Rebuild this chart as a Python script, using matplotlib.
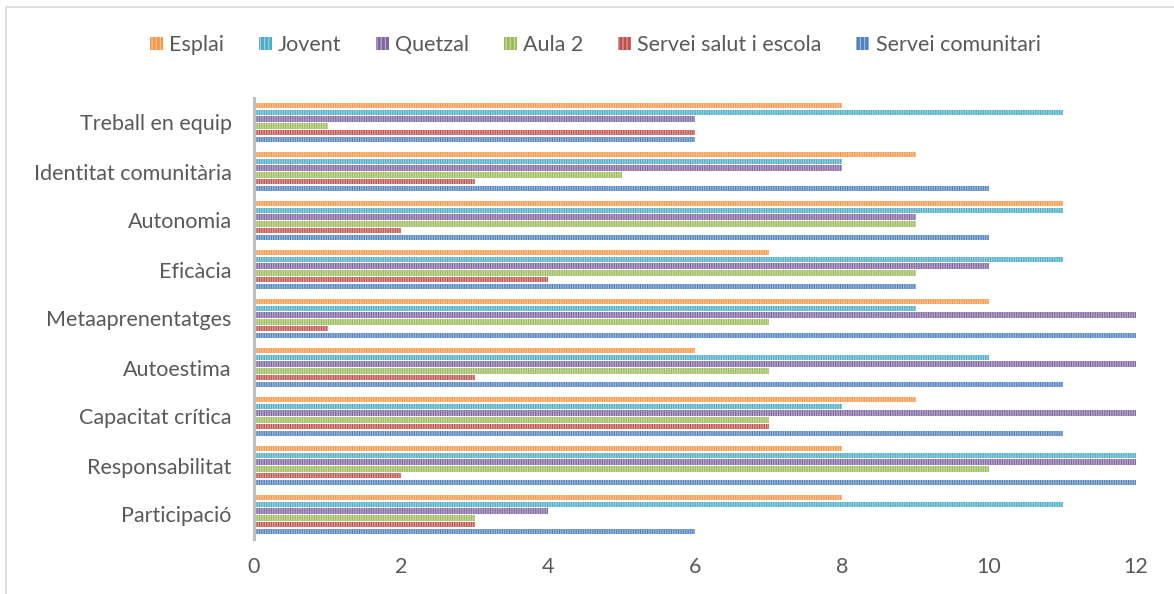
import matplotlib.pyplot as plt
import matplotlib.patches as mpatches
from matplotlib.colors import to_rgb
import numpy as np

plt.rcParams["font.family"] = ["Lato", "DejaVu Sans"]
plt.rcParams["hatch.linewidth"] = 0.9

# categories listed bottom -> top
categories = ["Participació", "Responsabilitat", "Capacitat crítica", "Autoestima",
              "Metaaprenentatges", "Eficàcia", "Autonomia", "Identitat comunitària",
              "Treball en equip"]

series = ["Esplai", "Jovent", "Quetzal", "Aula 2", "Servei salut i escola", "Servei comunitari"]

esplai            = [8, 8, 9, 6, 10, 7, 11, 9, 8]
jovent            = [11, 12, 8, 10, 9, 11, 11, 8, 11]
quetzal           = [4, 12, 12, 12, 12, 10, 9, 8, 6]
aula2             = [3, 10, 7, 7, 7, 9, 9, 5, 1]
servei_salut      = [3, 2, 7, 3, 1, 4, 2, 3, 6]
servei_comunitari = [6, 12, 11, 11, 12, 9, 10, 10, 6]

valors = [esplai, jovent, quetzal, aula2, servei_salut, servei_comunitari]
colors = ["#F79646", "#4BACC6", "#8064A2", "#9BBB59", "#C0504D", "#4F81BD"]


def lighter(c, f=0.45):
    r, g, b = to_rgb(c)
    return (r + (1 - r) * f, g + (1 - g) * f, b + (1 - b) * f)


fig = plt.figure(figsize=(11.74, 5.94), dpi=100)
ax = fig.add_axes([254 / 1174, 1 - 539 / 594, (1136 - 254) / 1174, (539 - 98) / 594])

pas = 0.14
alt = 0.108
y = np.arange(len(categories))
hatch = "|" * 7

for j, (nom, vals, col) in enumerate(zip(series, valors, colors)):
    ax.barh(y + (2.5 - j) * pas, vals, alt, color=col, edgecolor=lighter(col),
            linewidth=0, hatch=hatch, label=nom)

ax.set_xlim(0, 12)
ax.set_ylim(-0.5, len(categories) - 0.5)
ax.set_xticks(range(0, 13, 2))
ax.set_yticks(y)
ax.set_yticklabels(categories)
ax.tick_params(axis="both", length=0, labelsize=15.5, labelcolor="#595959")
ax.tick_params(axis="x", pad=13)
ax.tick_params(axis="y", pad=16)

for s in ["top", "right", "bottom"]:
    ax.spines[s].set_visible(False)
ax.spines["left"].set_color("#BFBFBF")
ax.spines["left"].set_linewidth(2.2)

handles = [mpatches.Patch(facecolor=c, edgecolor=lighter(c), linewidth=0, hatch="|" * 4)
           for c in colors]
fig.legend(handles, series, loc="center", bbox_to_anchor=(0.507, 0.924), ncol=6,
           frameon=False, fontsize=15.5, labelcolor="#595959",
           handlelength=0.6, handleheight=0.6, handletextpad=0.3, columnspacing=1.6)

# outer chart border
fig.add_artist(mpatches.Rectangle((6 / 1174, -0.1), 1.2, 1.1 - 7 / 594,
                                  transform=fig.transFigure, fill=False,
                                  edgecolor="#D9D9D9", linewidth=1.2))

plt.savefig("out.png", dpi=100)
